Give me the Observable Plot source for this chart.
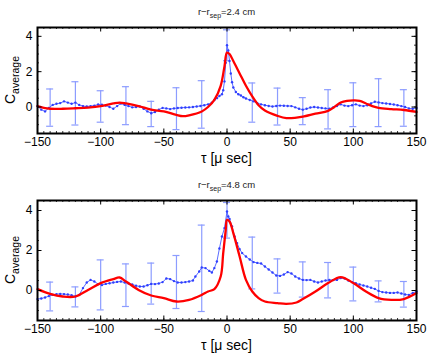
<!DOCTYPE html>
<html><head><meta charset="utf-8">
<script src="https://cdn.jsdelivr.net/npm/d3@7"></script>
<script src="https://cdn.jsdelivr.net/npm/@observablehq/plot@0.6"></script>
<style>body{margin:0;background:#fff;font-family:"Liberation Sans",Arial,sans-serif}svg{display:block}</style>
</head><body><div id="c"></div>
<script>
const titles = ["2.4", "4.8"];
const xTicks = [-150, -100, -50, 0, 50, 100, 150];
const yTicks = [0, 2, 4];

// Panel 1 (r - r_sep = 2.4 cm)
const blue1Tau = [-150,-147,-144,-141,-138,-135,-132,-129,-126,-123,-120,-117,-114,-111,-108,-105,-102,-99,-96,-93,-90,-87,-84,-81,-78,-75,-72,-69,-66,-63,-60,-57,-54,-51,-48,-45,-42,-39,-36,-33,-30,-27,-24,-21,-18,-15,-12,-10,-8,-6,-4,-3,-2,-1,0,1,2,3,4,5,7,9,11,13,15,18,21,24,27,30,33,36,39,42,45,48,51,54,57,60,63,66,69,72,75,78,81,84,87,90,93,96,99,102,105,108,111,114,117,120,123,126,129,132,135,138,141,144,147,150];
const blue1Val = [0.05,-0.15,-0.25,-0.05,0.12,0.18,0.22,0.32,0.25,0.18,0.25,0.12,0.05,0.03,0.05,0.08,0.14,0.13,0.08,0.0,-0.1,0.05,0.2,0.12,0.05,-0.02,0.0,0.03,-0.1,-0.25,-0.35,-0.28,-0.15,-0.05,-0.08,-0.12,-0.08,-0.06,-0.04,-0.03,-0.02,0.0,0.03,0.06,0.1,0.15,0.25,0.4,0.5,0.62,0.72,0.95,1.45,2.5,3.5,3.2,2.6,1.9,1.4,1.1,0.85,0.72,0.65,0.55,0.48,0.4,0.32,0.22,0.15,0.1,0.06,0.03,0.06,0.08,0.07,0.06,0.05,-0.02,-0.1,-0.15,-0.1,-0.03,0.0,-0.03,-0.06,-0.08,-0.1,-0.02,0.06,0.15,0.08,0.05,0.1,0.15,0.08,0.05,0.1,0.2,0.3,0.26,0.22,0.2,0.17,0.14,0.1,0.05,0.0,-0.08,-0.1,-0.05];
const red1Tau = [-150,-145,-140,-130,-120,-110,-100,-90,-85,-80,-70,-60,-50,-40,-35,-30,-20,-15,-10,-5,-2,0,2,5,10,15,20,25,30,40,47,55,60,70,80,85,90,95,100,105,110,115,120,130,140,150];
const red1Val = [0.05,-0.05,-0.1,-0.1,-0.07,-0.03,0.05,0.2,0.25,0.2,0.05,-0.15,-0.25,-0.45,-0.52,-0.47,-0.25,0.0,0.4,1.2,2.3,3.08,3.0,2.6,1.9,1.2,0.6,0.1,-0.2,-0.5,-0.63,-0.6,-0.55,-0.38,-0.22,0.0,0.25,0.35,0.37,0.35,0.2,0.05,-0.05,-0.12,-0.17,-0.28];
const err1Tau = [-140,-120,-100,-80,-60,-40,-20,0,20,40,60,80,100,120,140];
const err1Lo = [-1.09,-1.02,-0.86,-1.0,-1.11,-1.28,-1.2,2.62,-0.86,-1.02,-1.0,-1.24,-1.11,-1.11,-1.09];
const err1Hi = [1.02,1.43,0.92,1.15,0.32,1.09,1.49,4.37,1.36,1.07,0.53,0.98,1.37,1.6,0.98];

// Panel 2 (r - r_sep = 4.8 cm)
const blue2Tau = [-150,-147,-144,-141,-138,-135,-132,-129,-126,-123,-120,-117,-114,-111,-108,-105,-102,-99,-96,-93,-90,-87,-84,-81,-78,-75,-72,-69,-66,-63,-60,-57,-54,-51,-48,-45,-42,-39,-36,-33,-30,-27,-25,-22,-20,-17,-14,-12,-10,-8,-6,-4,-2,0,1,2,4,6,8,10,12,15,18,21,24,27,30,33,36,39,42,45,48,51,54,57,60,63,66,69,72,75,78,81,84,87,90,93,96,99,102,105,108,111,114,117,120,123,126,129,132,135,138,141,144,147,150];
const blue2Val = [-0.43,-0.4,-0.35,-0.28,-0.22,-0.18,-0.17,-0.18,-0.2,-0.24,-0.3,-0.22,0.12,0.4,0.53,0.45,0.32,0.27,0.33,0.36,0.4,0.43,0.45,0.4,0.35,0.3,0.24,0.2,0.2,0.26,0.33,0.32,0.35,0.42,0.6,0.57,0.47,0.4,0.4,0.42,0.45,0.5,0.7,0.95,1.15,1.12,0.98,0.9,1.12,1.45,2.1,2.7,3.12,3.95,3.7,3.58,3.2,2.7,2.37,2.07,1.87,1.7,1.55,1.42,1.38,1.35,1.2,1.05,0.9,0.75,0.73,0.8,0.92,0.85,0.7,0.6,0.53,0.52,0.53,0.45,0.4,0.45,0.5,0.53,0.52,0.53,0.62,0.6,0.5,0.42,0.36,0.3,0.25,0.2,0.14,0.08,-0.02,-0.08,-0.1,-0.12,-0.12,-0.1,-0.15,-0.2,-0.22,-0.12,-0.05];
const red2Tau = [-150,-140,-130,-120,-110,-100,-90,-85,-80,-70,-60,-50,-40,-30,-20,-15,-10,-5,-3,-1,0,2,5,10,15,20,25,30,40,47,55,60,70,80,90,100,110,120,130,140,150];
const red2Val = [0.07,-0.17,-0.3,-0.3,0.03,0.37,0.57,0.65,0.45,0.03,-0.25,-0.38,-0.55,-0.47,-0.22,-0.05,0.07,0.7,1.87,3.03,3.53,3.45,2.87,1.7,0.53,-0.05,-0.38,-0.55,-0.63,-0.67,-0.6,-0.43,-0.05,0.37,0.67,0.37,-0.05,-0.38,-0.47,-0.43,-0.13];
const err2Tau = [-140,-120,-100,-80,-60,-40,-20,0,20,40,60,80,100,120,140];
const err2Lo = [-1.02,-0.82,-0.97,-0.8,-0.68,-0.9,-1.05,2.62,0.08,-0.13,-0.33,-0.37,-0.52,-0.57,-0.83];
const err2Hi = [0.42,0.18,1.53,1.33,1.37,1.75,3.27,4.4,2.67,1.58,1.43,1.4,1.17,0.48,0.45];

const panels = [
  {title: titles[0], bt: blue1Tau, bv: blue1Val, rt: red1Tau, rv: red1Val, et: err1Tau, lo: err1Lo, hi: err1Hi, mt: 27, mb: 44},
  {title: titles[1], bt: blue2Tau, bv: blue2Val, rt: red2Tau, rv: red2Val, et: err2Tau, lo: err2Lo, hi: err2Hi, mt: 23, mb: 34}
];

const X0 = -150, X1 = 150, Y0 = -1.5, Y1 = 4.5;
const minorX = d3.range(X0, X1 + 1, 5);
const minorY = d3.range(Y0, Y1 + 0.01, 0.5);

for (const p of panels) {
  const blue = p.bt.map((t, i) => ({t, v: p.bv[i]}));
  const red = p.rt.map((t, i) => ({t, v: p.rv[i]}));
  const err = p.et.map((t, i) => ({t, lo: p.lo[i], hi: p.hi[i]}));
  const H = 177;
  const ih = H - p.mt - p.mb;
  const yPer = (Y1 - Y0) / ih, xPer = (X1 - X0) / (429 - 37 - 13);
  const capW = 3.5 * xPer;
  const chart = Plot.plot({
    width: 429, height: H,
    marginLeft: 37, marginRight: 13, marginTop: p.mt, marginBottom: p.mb,
    style: {fontFamily: "Liberation Sans, Arial, sans-serif", fontSize: "12px", color: "#000"},
    x: {domain: [X0, X1]},
    y: {domain: [Y0, Y1]},
    marks: [
      Plot.ruleX(err, {x: "t", y1: "lo", y2: "hi", stroke: "#8c9cff", strokeWidth: 1.2}),
      Plot.ruleY(err, {y: "lo", x1: d => d.t - capW, x2: d => d.t + capW, stroke: "#8c9cff", strokeWidth: 1.2}),
      Plot.ruleY(err, {y: "hi", x1: d => d.t - capW, x2: d => d.t + capW, stroke: "#8c9cff", strokeWidth: 1.2}),
      Plot.line(blue, {x: "t", y: "v", stroke: "#5a6cff", strokeWidth: 1}),
      Plot.dot(blue, {x: "t", y: "v", r: 1.2, fill: "#2f3fff", stroke: "none"}),
      Plot.line(red, {x: "t", y: "v", stroke: "#ff0000", strokeWidth: 2.3, curve: "catmull-rom"}),
      // ticks (inward, all sides)
      Plot.ruleX(minorX, {x: d => d, y1: Y0, y2: Y0 + 2 * yPer, stroke: "#000", strokeWidth: 0.8}),
      Plot.ruleX(minorX, {x: d => d, y1: Y1, y2: Y1 - 2 * yPer, stroke: "#000", strokeWidth: 0.8}),
      Plot.ruleX(xTicks, {x: d => d, y1: Y0, y2: Y0 + 4.5 * yPer, stroke: "#000", strokeWidth: 1}),
      Plot.ruleX(xTicks, {x: d => d, y1: Y1, y2: Y1 - 4.5 * yPer, stroke: "#000", strokeWidth: 1}),
      Plot.ruleY(minorY, {y: d => d, x1: X0, x2: X0 + 2 * xPer, stroke: "#000", strokeWidth: 0.8}),
      Plot.ruleY(minorY, {y: d => d, x1: X1, x2: X1 - 2 * xPer, stroke: "#000", strokeWidth: 0.8}),
      Plot.ruleY(yTicks, {y: d => d, x1: X0, x2: X0 + 4.5 * xPer, stroke: "#000", strokeWidth: 1}),
      Plot.ruleY(yTicks, {y: d => d, x1: X1, x2: X1 - 4.5 * xPer, stroke: "#000", strokeWidth: 1}),
      Plot.frame({stroke: "#000", strokeWidth: 2}),
      Plot.axisX({ticks: xTicks, tickSize: 0, tickPadding: 4, label: null, fontSize: 12, tickFormat: d => d < 0 ? "\u2212" + Math.abs(d) : String(d)}),
      Plot.axisY({ticks: yTicks, tickSize: 0, tickPadding: 5, label: null, fontSize: 12, tickFormat: d => String(d)})
    ]
  });
  const svg = d3.select(chart);
  const xs = chart.scale("x"), ys = chart.scale("y");
  const cx = (xs.apply(X0) + xs.apply(X1)) / 2;
  const cy = (ys.apply(Y0) + ys.apply(Y1)) / 2;
  // title
  const t = svg.append("text").attr("x", cx).attr("y", p.mt - 12).attr("text-anchor", "middle")
    .attr("font-size", 9.5).attr("fill", "#222");
  t.append("tspan").text("r\u2212r");
  t.append("tspan").attr("font-size", 7).attr("dy", 2.5).text("sep");
  t.append("tspan").attr("dy", -2.5).text("=" + p.title + " cm");
  // x label
  svg.append("text").attr("x", cx).attr("y", ys.apply(Y0) + 30).attr("text-anchor", "middle")
    .attr("font-size", 14).attr("fill", "#000").text("\u03c4 [\u03bc sec]");
  // y label
  const yl = svg.append("text").attr("transform", `translate(15,${cy}) rotate(-90)`).attr("text-anchor", "middle")
    .attr("font-size", 14).attr("fill", "#000");
  yl.append("tspan").text("C");
  yl.append("tspan").attr("font-size", 10.5).attr("dy", 4).text("average");
  document.getElementById("c").appendChild(chart);
}
</script></body></html>
